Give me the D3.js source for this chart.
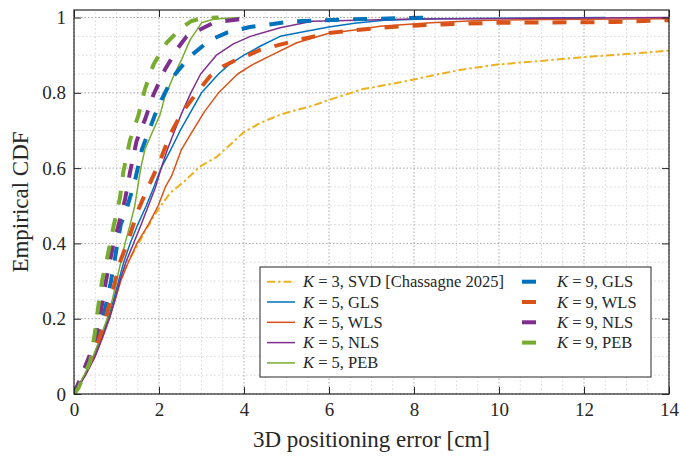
<!DOCTYPE html>
<html>
<head>
<meta charset="utf-8">
<script src="https://cdn.jsdelivr.net/npm/d3@7"></script>
<style>
body { margin: 0; background: #fff; }
text { font-family: "Liberation Serif", "Times New Roman", serif; fill: #262626; }
</style>
</head>
<body>
<div id="chart-container"></div>
<script>
// [error in cm, empirical cdf]
var k3_svd = [[0,0],[0.25,0.05],[0.48,0.1],[0.66,0.15],[0.82,0.2],[0.95,0.25],[1.08,0.3],[1.25,0.35],[1.45,0.385],[1.67,0.432],[1.95,0.485],[2.26,0.534],[2.6,0.565],[2.96,0.604],[3.36,0.63],[3.7,0.665],[3.98,0.694],[4.38,0.72],[4.85,0.742],[5.15,0.752],[5.6,0.765],[6.02,0.782],[6.8,0.81],[7.4,0.822],[7.98,0.835],[8.6,0.85],[9.15,0.862],[9.95,0.875],[11.1,0.886],[11.9,0.894],[13.1,0.904],[14,0.912]];
var k5_gls = [[0,0],[0.25,0.05],[0.47,0.1],[0.64,0.15],[0.8,0.2],[0.93,0.25],[1.05,0.3],[1.17,0.35],[1.32,0.4],[1.5,0.45],[1.7,0.5],[1.88,0.55],[2.05,0.6],[2.28,0.65],[2.5,0.7],[2.75,0.75],[3.0,0.8],[3.4,0.85],[3.65,0.875],[4.0,0.9],[4.4,0.925],[4.85,0.95],[5.4,0.962],[6.0,0.975],[6.6,0.985],[7.3,0.993],[8.5,0.997],[11,0.999],[12.5,1]];
var k5_wls = [[0,0],[0.27,0.05],[0.49,0.1],[0.67,0.15],[0.83,0.2],[0.97,0.25],[1.1,0.3],[1.28,0.35],[1.48,0.4],[1.75,0.45],[1.98,0.5],[2.15,0.55],[2.3,0.58],[2.53,0.65],[2.8,0.7],[3.07,0.75],[3.4,0.8],[3.85,0.85],[4.2,0.875],[4.65,0.9],[5.24,0.933],[6.0,0.958],[6.7,0.968],[7.2,0.977],[8.4,0.986],[9.55,0.992],[11,0.995],[14,0.997]];
var k5_nls = [[0,0],[0.27,0.05],[0.5,0.1],[0.67,0.15],[0.83,0.2],[0.96,0.25],[1.08,0.3],[1.22,0.35],[1.4,0.4],[1.58,0.45],[1.75,0.5],[1.92,0.55],[2.05,0.6],[2.2,0.65],[2.37,0.7],[2.55,0.75],[2.75,0.8],[2.98,0.85],[3.35,0.9],[3.75,0.93],[4.15,0.95],[4.85,0.973],[5.6,0.99],[8.0,0.996],[11,0.998],[14,1]];
var k5_peb = [[0,0],[0.24,0.05],[0.45,0.1],[0.62,0.15],[0.78,0.2],[0.9,0.25],[1.0,0.3],[1.1,0.35],[1.2,0.4],[1.32,0.45],[1.43,0.5],[1.5,0.55],[1.57,0.6],[1.67,0.65],[1.86,0.7],[2.02,0.74],[2.14,0.79],[2.34,0.844],[2.53,0.888],[2.73,0.94],[3.0,0.986],[3.3,0.996],[3.9,1]];
var k9_gls = [[0,0],[0.2,0.05],[0.4,0.1],[0.55,0.15],[0.68,0.2],[0.78,0.25],[0.87,0.3],[0.95,0.35],[1.02,0.4],[1.1,0.45],[1.26,0.5],[1.42,0.56],[1.6,0.65],[1.8,0.71],[1.9,0.74],[2.06,0.782],[2.34,0.844],[2.73,0.897],[3.2,0.94],[3.6,0.96],[4.14,0.975],[5.16,0.99],[6.5,0.995],[8.4,1]];
var k9_wls = [[0,0],[0.22,0.05],[0.43,0.1],[0.6,0.15],[0.74,0.2],[0.86,0.25],[0.97,0.3],[1.08,0.35],[1.25,0.4],[1.32,0.423],[1.51,0.489],[1.75,0.551],[2.02,0.618],[2.26,0.689],[2.53,0.746],[2.89,0.8],[3.2,0.844],[3.5,0.87],[3.75,0.884],[4.1,0.9],[4.38,0.914],[5.16,0.937],[6.0,0.959],[7.2,0.973],[8.4,0.981],[9.95,0.986],[12.7,0.988],[14,0.993]];
var k9_nls = [[0,0],[0.18,0.05],[0.36,0.1],[0.5,0.15],[0.6,0.2],[0.68,0.25],[0.75,0.3],[0.84,0.35],[0.93,0.4],[1.04,0.445],[1.2,0.516],[1.32,0.59],[1.47,0.671],[1.67,0.729],[1.87,0.795],[2.14,0.862],[2.45,0.92],[2.65,0.95],[2.89,0.964],[3.28,0.986],[3.5,0.99],[4.2,1]];
var k9_peb = [[0,0],[0.1,0.015],[0.24,0.05],[0.38,0.086],[0.49,0.161],[0.57,0.232],[0.66,0.3],[0.76,0.35],[0.85,0.4],[0.93,0.445],[1.08,0.52],[1.16,0.59],[1.32,0.675],[1.51,0.738],[1.67,0.81],[1.87,0.875],[2.18,0.933],[2.53,0.973],[2.75,0.99],[3.0,0.998],[3.4,1]];

var k_values = [3, 5, 5, 5, 5, 9, 9, 9, 9];
var methods = ["SVD [Chassagne 2025]", "GLS", "WLS", "NLS", "PEB", "GLS", "WLS", "NLS", "PEB"];
var x_ticks = [0, 2, 4, 6, 8, 10, 12, 14];
var y_ticks = [0, 0.2, 0.4, 0.6, 0.8, 1];

var all_data = [k3_svd, k5_gls, k5_wls, k5_nls, k5_peb, k9_gls, k9_wls, k9_nls, k9_peb];
var colors = ["#EDB120", "#0072BD", "#D95319", "#7E2F8E", "#77AC30", "#0072BD", "#D95319", "#7E2F8E", "#77AC30"];
var widths = [2, 1.5, 1.5, 1.5, 1.5, 4, 4, 4, 4];
var dashes = ["8,3,2.5,3", null, null, null, null, "14,14", "14,14", "14,14", "14,14"];

var svg_width = 680;
var svg_height = 456;
var margin = {top: 10, right: 11, bottom: 62, left: 74};
var plot_w = svg_width - margin.left - margin.right;
var plot_h = svg_height - margin.top - margin.bottom;

var svg = d3.select("#chart-container")
	.append("svg")
	.attr("width", svg_width)
	.attr("height", svg_height)
	.style("background", "#fff");

var x = d3.scaleLinear().domain([0, 14]).range([margin.left, margin.left + plot_w]);
var y = d3.scaleLinear().domain([0, 1.02]).range([margin.top + plot_h, margin.top]);

var grid = svg.append("g");

// minor grid
var minor_x = d3.range(0, 14.01, 0.5).filter(function(v) { return Math.round(v * 2) % 4 != 0; });
var minor_y = d3.range(0, 1.001, 0.05).filter(function(v) { return Math.round(v * 20) % 4 != 0; });

grid.selectAll(".minor-x").data(minor_x).enter().append("line")
	.attr("x1", function(d) { return x(d); }).attr("x2", function(d) { return x(d); })
	.attr("y1", y(0)).attr("y2", margin.top)
	.attr("stroke", "#d6d6d6").attr("stroke-width", 1).attr("stroke-dasharray", "1.5,2.5");
grid.selectAll(".minor-y").data(minor_y).enter().append("line")
	.attr("y1", function(d) { return y(d); }).attr("y2", function(d) { return y(d); })
	.attr("x1", x(0)).attr("x2", x(14))
	.attr("stroke", "#d6d6d6").attr("stroke-width", 1).attr("stroke-dasharray", "1.5,2.5");

// major grid
grid.selectAll(".major-x").data(x_ticks).enter().append("line")
	.attr("x1", function(d) { return x(d); }).attr("x2", function(d) { return x(d); })
	.attr("y1", y(0)).attr("y2", margin.top)
	.attr("stroke", "#a8a8a8").attr("stroke-width", 1).attr("stroke-dasharray", "1.5,2");
grid.selectAll(".major-y").data(y_ticks).enter().append("line")
	.attr("y1", function(d) { return y(d); }).attr("y2", function(d) { return y(d); })
	.attr("x1", x(0)).attr("x2", x(14))
	.attr("stroke", "#a8a8a8").attr("stroke-width", 1).attr("stroke-dasharray", "1.5,2");

svg.append("clipPath").attr("id", "plot-clip")
	.append("rect")
	.attr("x", margin.left).attr("y", margin.top)
	.attr("width", plot_w).attr("height", plot_h);

var line = d3.line()
	.x(function(d) { return x(d[0]); })
	.y(function(d) { return y(d[1]); });

svg.append("g")
	.attr("clip-path", "url(#plot-clip)")
	.selectAll(".cdf")
	.data(all_data)
	.enter()
	.append("path")
	.attr("class", "cdf")
	.attr("d", line)
	.attr("fill", "none")
	.attr("stroke", function(d, i) { return colors[i]; })
	.attr("stroke-width", function(d, i) { return widths[i]; })
	.attr("stroke-dasharray", function(d, i) { return dashes[i]; })
	.attr("stroke-linejoin", "round");

// axes
var x_axis = svg.append("g")
	.attr("transform", "translate(0," + y(0) + ")")
	.call(d3.axisBottom(x).tickValues(x_ticks).tickSize(-7).tickPadding(9).tickFormat(d3.format("d")));
var y_axis = svg.append("g")
	.attr("transform", "translate(" + x(0) + ",0)")
	.call(d3.axisLeft(y).tickValues(y_ticks).tickSize(-7).tickPadding(8).tickFormat(function(d) { return d == 0 || d == 1 ? d : d.toFixed(1); }));
var x_top = svg.append("g")
	.attr("transform", "translate(0," + margin.top + ")")
	.call(d3.axisTop(x).tickValues(x_ticks).tickSize(-7).tickFormat(""));
var y_right = svg.append("g")
	.attr("transform", "translate(" + x(14) + ",0)")
	.call(d3.axisRight(y).tickValues(y_ticks).tickSize(-7).tickFormat(""));

[x_axis, y_axis, x_top, y_right].forEach(function(a) {
	a.select(".domain").remove();
	a.selectAll(".tick line").attr("stroke", "#262626").attr("stroke-width", 1);
	a.selectAll(".tick text").style("font-size", "19px").attr("fill", "#262626")
		.style("font-family", "'Liberation Serif', 'Times New Roman', serif");
});

svg.append("rect")
	.attr("x", margin.left).attr("y", margin.top)
	.attr("width", plot_w).attr("height", plot_h)
	.attr("fill", "none").attr("stroke", "#262626").attr("stroke-width", 1.2);

svg.append("text")
	.attr("x", margin.left + plot_w / 2)
	.attr("y", 447)
	.attr("text-anchor", "middle")
	.style("font-size", "23px")
	.text("3D positioning error [cm]");

svg.append("text")
	.attr("transform", "translate(28," + (margin.top + plot_h / 2) + ") rotate(-90)")
	.attr("text-anchor", "middle")
	.style("font-size", "23px")
	.text("Empirical CDF");

// legend
var legend = svg.append("g");
legend.append("rect")
	.attr("x", 260).attr("y", 267)
	.attr("width", 391).attr("height", 110)
	.attr("fill", "#fff").attr("stroke", "#262626").attr("stroke-width", 1);

var row_h = 20.3;
var items = legend.selectAll(".legend-item")
	.data(all_data)
	.enter()
	.append("g")
	.attr("class", "legend-item")
	.attr("transform", function(d, i) {
		var col = i < 5 ? 0 : 1;
		var row = i < 5 ? i : i - 5;
		return "translate(" + (col == 0 ? 267 : 522) + "," + (281.7 + row * row_h) + ")";
	});

items.append("line")
	.attr("x1", 0).attr("x2", 28)
	.attr("y1", 0).attr("y2", 0)
	.attr("stroke", function(d, i) { return colors[i]; })
	.attr("stroke-width", function(d, i) { return widths[i]; })
	.attr("stroke-dasharray", function(d, i) { return dashes[i]; });

var legend_text = items.append("text")
	.attr("x", function(d, i) { return i < 5 ? 36 : 35; })
	.attr("y", 5.5)
	.style("font-size", "16.5px");
legend_text.append("tspan").style("font-style", "italic").text("K");
legend_text.append("tspan").text(function(d, i) { return " = " + k_values[i] + ", " + methods[i]; });
</script>
</body>
</html>
